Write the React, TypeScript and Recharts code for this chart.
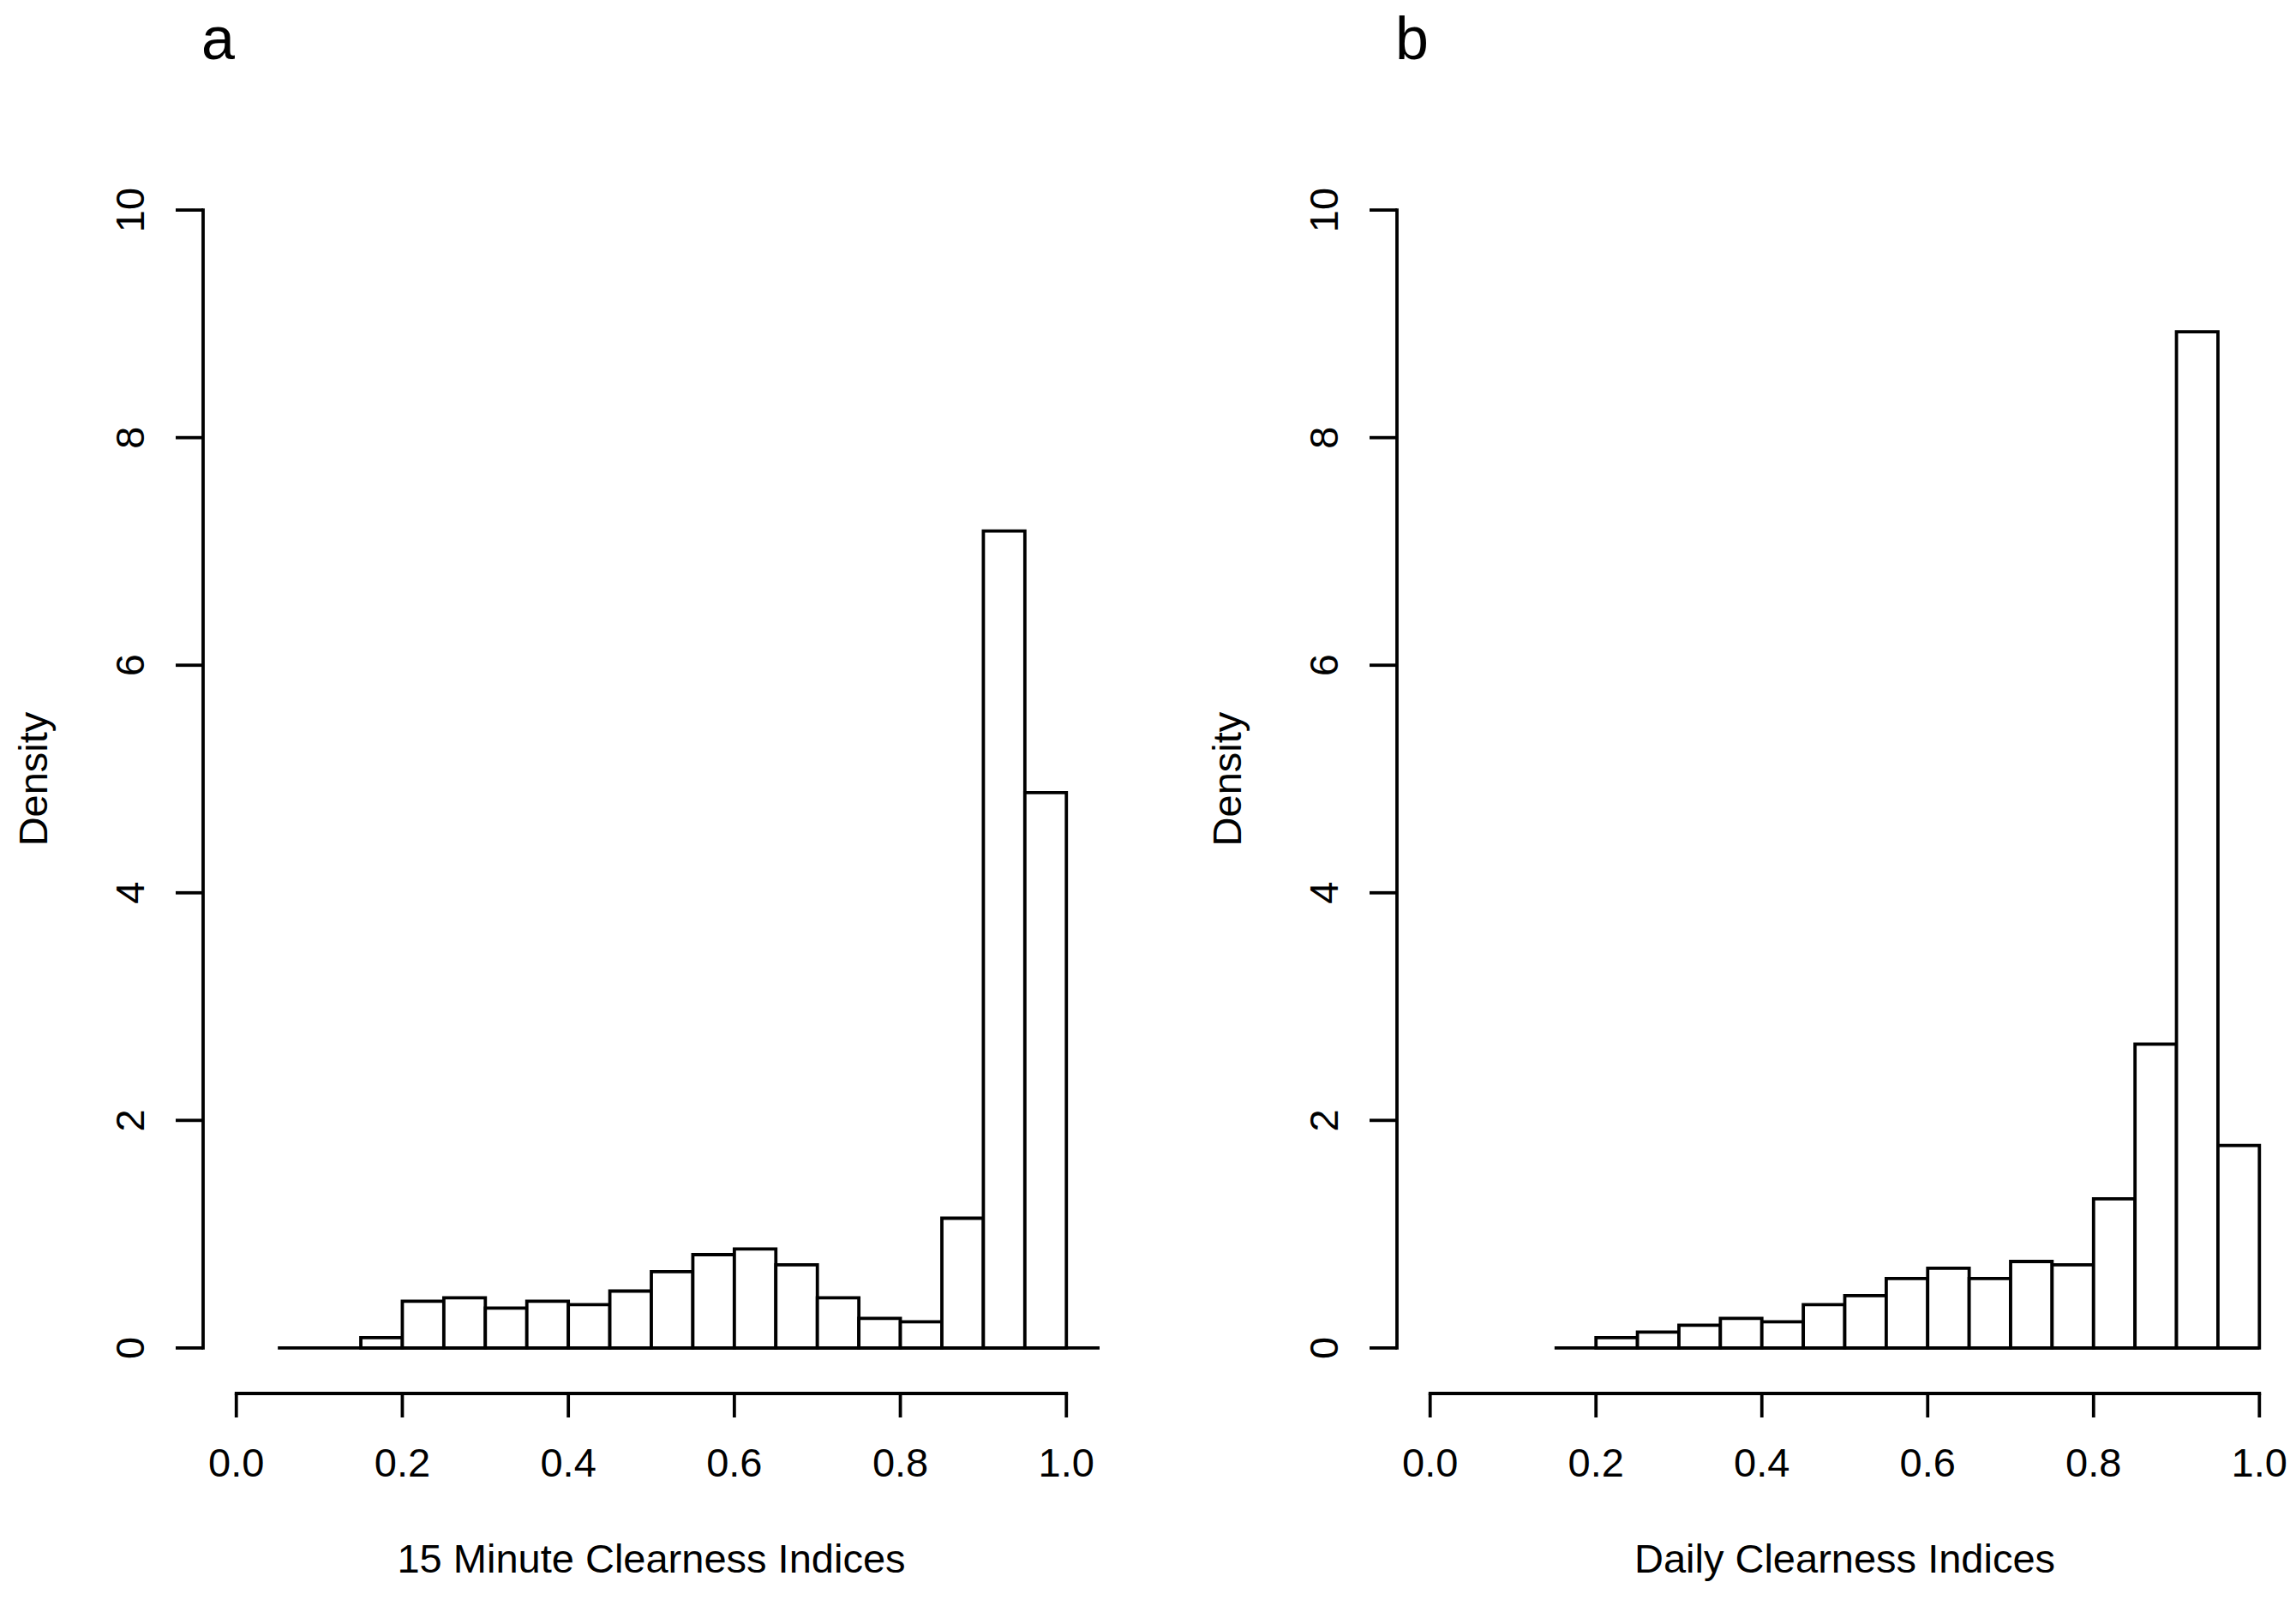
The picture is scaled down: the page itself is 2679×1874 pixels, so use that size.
import {
  ComposedChart,
  Label,
  ReferenceArea,
  ReferenceLine,
  XAxis,
  YAxis,
} from "recharts";

const FONT = '"Liberation Sans", Arial, Helvetica, sans-serif';
const INK = "#000000";
const LINE = 3.8;
const CHART_H = 1874;

const xTicks = [0, 0.2, 0.4, 0.6, 0.8, 1.0];
const yTicks = [0, 2, 4, 6, 8, 10];
const xDomain: [number, number] = [-0.04, 1.04];
const yDomain: [number, number] = [-0.4, 10.4];

// panel a: 15 minute clearness indices (bin edges + density per bin)
const minuteEdges = [
  0.05, 0.1, 0.15, 0.2, 0.25, 0.3, 0.35, 0.4, 0.45, 0.5, 0.55, 0.6, 0.65, 0.7,
  0.75, 0.8, 0.85, 0.9, 0.95, 1.0, 1.05,
];
const minuteDensity = [
  0, 0, 0.09, 0.41, 0.44, 0.35, 0.41, 0.38, 0.5, 0.67, 0.82, 0.87, 0.73, 0.44,
  0.26, 0.23, 1.14, 7.18, 4.88, 0,
];

// panel b: daily clearness indices
const dailyEdges = [
  0.15, 0.2, 0.25, 0.3, 0.35, 0.4, 0.45, 0.5, 0.55, 0.6, 0.65, 0.7, 0.75, 0.8,
  0.85, 0.9, 0.95, 1.0,
];
const dailyDensity = [
  0, 0.09, 0.14, 0.2, 0.26, 0.23, 0.38, 0.46, 0.61, 0.7, 0.61, 0.76, 0.73,
  1.31, 2.67, 8.93, 1.78,
];

type Bin = { lo: number; hi: number; mid: number; density: number };

function toBins(edges: number[], density: number[]): Bin[] {
  return density.map((d, i) => ({
    lo: edges[i],
    hi: edges[i + 1],
    mid: (edges[i] + edges[i + 1]) / 2,
    density: d,
  }));
}

function XTick(props: any) {
  const { x, y, payload } = props;
  return (
    <text
      x={x}
      y={y}
      dy="0.71em"
      textAnchor="middle"
      fontSize={47}
      fontFamily={FONT}
      fill={INK}
    >
      {Number(payload.value).toFixed(1)}
    </text>
  );
}

function YTick(props: any) {
  const { x, y, payload } = props;
  return (
    <text
      x={x}
      y={y}
      transform={`rotate(-90 ${x} ${y})`}
      textAnchor="middle"
      fontSize={47}
      fontFamily={FONT}
      fill={INK}
    >
      {payload.value}
    </text>
  );
}

type PanelProps = {
  letter: string;
  title: string;
  edges: number[];
  density: number[];
  left: number;
  yAxisWidth: number;
  width: number;
};

function HistPanel({ letter, title, edges, density, left, yAxisWidth, width }: PanelProps) {
  const bins = toBins(edges, density);
  const first = edges[0];
  const last = edges[edges.length - 1];

  return (
    <div style={{ position: "absolute", left, top: 0, width, height: CHART_H }}>
      <ComposedChart
        width={width}
        height={CHART_H}
        data={bins}
        margin={{ top: 192, right: 0, bottom: 0, left: 0 }}
      >
        <XAxis
          type="number"
          dataKey="mid"
          domain={xDomain}
          allowDataOverflow
          ticks={xTicks}
          interval={0}
          height={248}
          axisLine={false}
          tickLine={{ stroke: INK, strokeWidth: LINE }}
          tickSize={28}
          tickMargin={36}
          tick={XTick}
        >
          <Label
            content={(p: any) => {
              const vb = p.viewBox;
              return (
                <text
                  x={vb.x + vb.width / 2}
                  y={vb.y + 209}
                  textAnchor="middle"
                  fontSize={47}
                  fontFamily={FONT}
                  fill={INK}
                >
                  {title}
                </text>
              );
            }}
          />
        </XAxis>
        <YAxis
          type="number"
          domain={yDomain}
          allowDataOverflow
          ticks={yTicks}
          interval={0}
          width={yAxisWidth}
          axisLine={false}
          tickLine={{ stroke: INK, strokeWidth: LINE }}
          tickSize={32}
          tickMargin={37}
          tick={YTick}
        >
          <Label
            content={(p: any) => {
              const vb = p.viewBox;
              const bx = vb.x + vb.width - 182;
              const cy = vb.y + vb.height / 2;
              return (
                <text
                  x={bx}
                  y={cy}
                  transform={`rotate(-90 ${bx} ${cy})`}
                  textAnchor="middle"
                  fontSize={47}
                  fontFamily={FONT}
                  fill={INK}
                >
                  Density
                </text>
              );
            }}
          />
        </YAxis>

        {/* axis lines only span first..last tick, R style */}
        <ReferenceLine
          segment={[
            { x: xDomain[0], y: yTicks[0] },
            { x: xDomain[0], y: yTicks[yTicks.length - 1] },
          ]}
          stroke={INK}
          strokeWidth={LINE}
          strokeLinecap="square"
          ifOverflow="visible"
        />
        <ReferenceLine
          segment={[
            { x: xTicks[0], y: yDomain[0] },
            { x: xTicks[xTicks.length - 1], y: yDomain[0] },
          ]}
          stroke={INK}
          strokeWidth={LINE}
          strokeLinecap="square"
          ifOverflow="visible"
        />

        {/* zero-height bins still show as baseline */}
        <ReferenceLine
          segment={[
            { x: first, y: 0 },
            { x: last, y: 0 },
          ]}
          stroke={INK}
          strokeWidth={LINE}
          ifOverflow="hidden"
        />

        {bins
          .filter((b) => b.density > 0)
          .map((b) => (
            <ReferenceArea
              key={b.lo}
              x1={b.lo}
              x2={b.hi}
              y1={0}
              y2={b.density}
              fill="#ffffff"
              fillOpacity={1}
              stroke={INK}
              strokeWidth={LINE}
              ifOverflow="visible"
            />
          ))}
      </ComposedChart>
      <svg
        width={width}
        height={120}
        style={{ position: "absolute", left: 0, top: 0, pointerEvents: "none" }}
      >
        <text x={yAxisWidth - 2} y={69} fontSize={70} fontFamily={FONT} fill={INK}>
          {letter}
        </text>
      </svg>
    </div>
  );
}

export default function App() {
  return (
    <div
      style={{
        position: "absolute",
        left: 0,
        top: 0,
        width: 2679,
        height: CHART_H,
        background: "#ffffff",
      }}
    >
      <HistPanel
        letter="a"
        title="15 Minute Clearness Indices"
        edges={minuteEdges}
        density={minuteDensity}
        left={0}
        yAxisWidth={237}
        width={1283}
      />
      <HistPanel
        letter="b"
        title="Daily Clearness Indices"
        edges={dailyEdges}
        density={dailyDensity}
        left={1300}
        yAxisWidth={330}
        width={1375}
      />
    </div>
  );
}
